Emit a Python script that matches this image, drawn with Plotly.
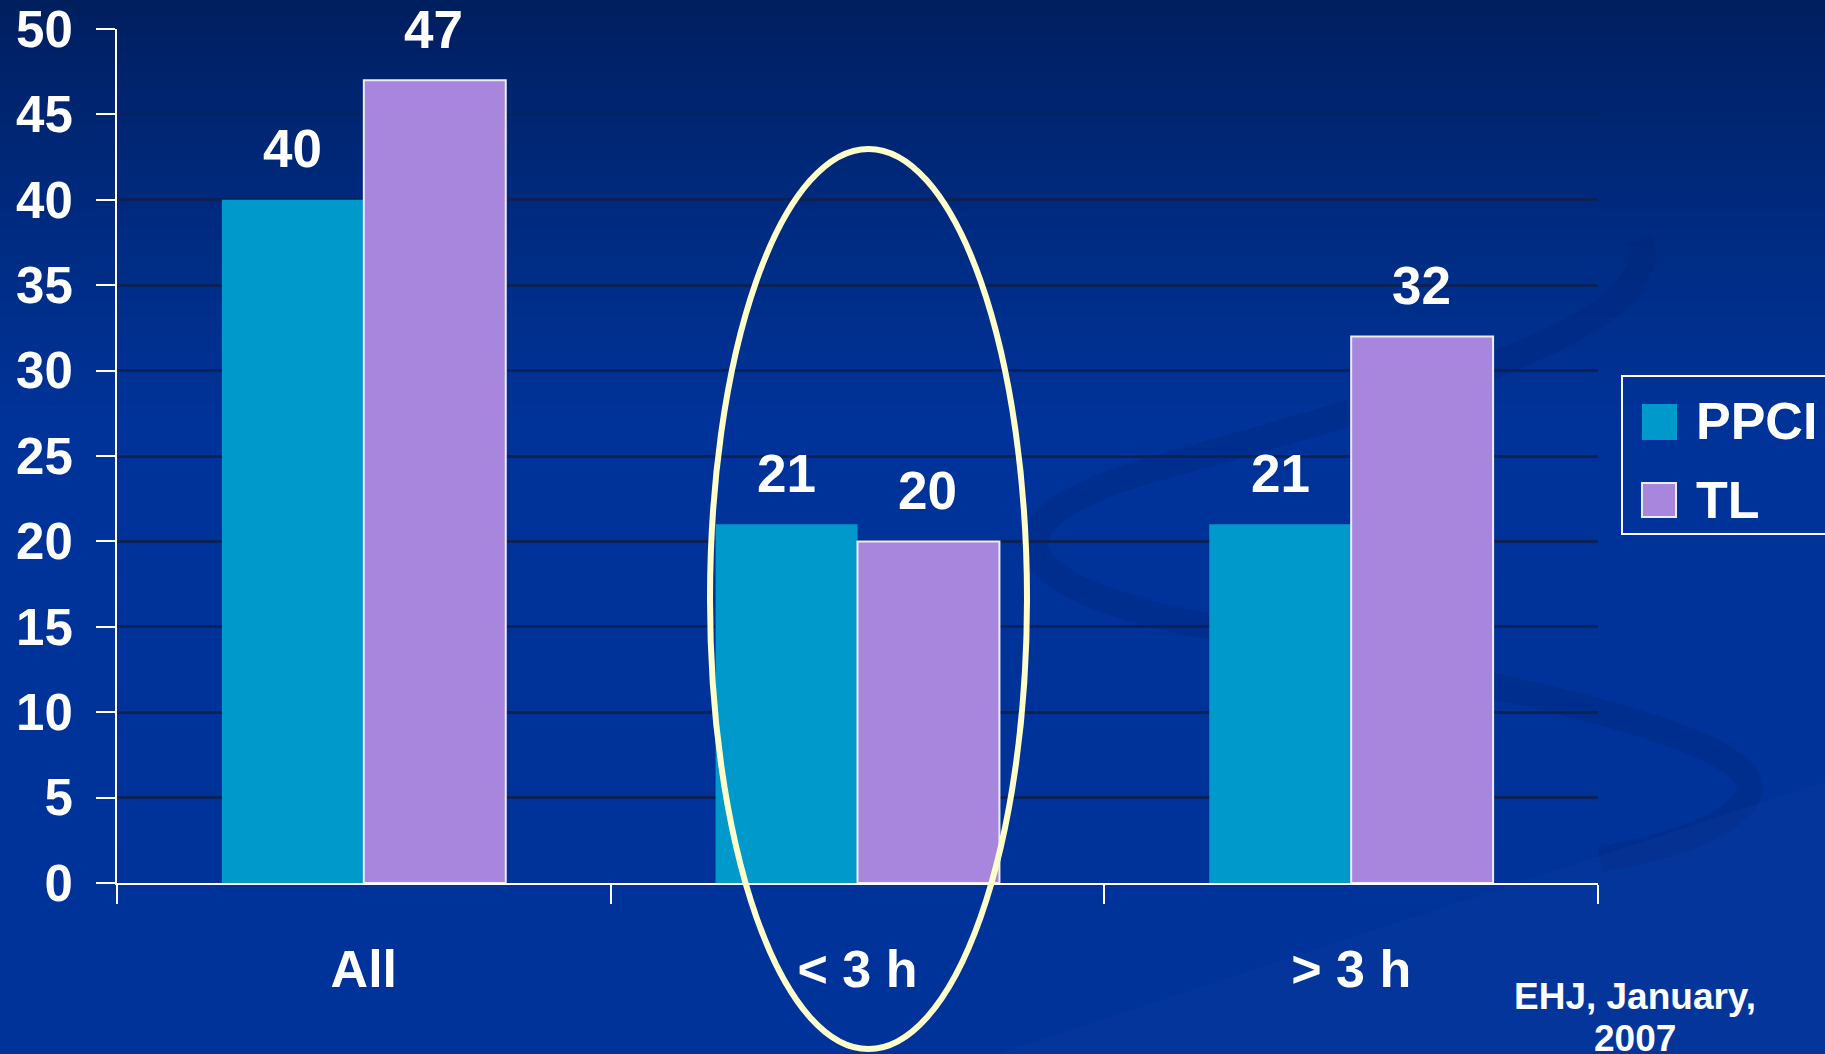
import plotly.graph_objects as go

# ---- data ----
categories = ["All", "< 3 h", "> 3 h"]
tick_labels = ["All", "&lt; 3 h", "&gt; 3 h"]
ppci_values = [40, 21, 21]
tl_values = [47, 20, 32]
series_names = ["PPCI", "TL"]
y_ticks = [0, 5, 10, 15, 20, 25, 30, 35, 40, 45, 50]
source_lines = ["EHJ, January,", "2007"]

# ---- layout geometry ----
W, H = 1825, 1054
L, R, T, B = 117, 227, 29, 171
PW, PH = W - L - R, H - T - B
FONT = "Arial, 'Liberation Sans', sans-serif"
PPCI_COLOR = "#0099CC"
TL_COLOR = "#A886DD"


def px(x):
    return (x - L) / PW


def py(y):
    return (H - B - y) / PH


def lerp_color(c1, c2, t):
    a = [int(c1[i:i + 2], 16) for i in (1, 3, 5)]
    b = [int(c2[i:i + 2], 16) for i in (1, 3, 5)]
    return "rgb(%d,%d,%d)" % tuple(round(a[k] + (b[k] - a[k]) * t) for k in range(3))


fig = go.Figure()
fig.add_bar(x=categories, y=ppci_values, name=series_names[0],
            marker=dict(color=PPCI_COLOR, line=dict(width=0)), showlegend=False)
fig.add_bar(x=categories, y=tl_values, name=series_names[1],
            marker=dict(color=TL_COLOR, line=dict(color="#ECECF4", width=2)), showlegend=False)

shapes = []
# background gradient
n = 60
top_c, bot_c = "#001E5C", "#003399"
grad_end = 430
for i in range(n):
    y0 = H * i / n
    y1 = H * (i + 1) / n + 1
    t = min(1.0, ((y0 + y1) / 2) / grad_end) ** 0.8
    col = lerp_color(top_c, bot_c, t)
    shapes.append(dict(type="rect", xref="paper", yref="paper", layer="below",
                       x0=px(-5), x1=px(W + 5), y0=py(y1), y1=py(y0),
                       fillcolor=col, line=dict(width=0)))

# faint decorative swoosh
sw1 = ("M {} {} C {} {} {} {} {} {} C {} {} {} {} {} {} C {} {} {} {} {} {} C {} {} {} {} {} {}").format(
    px(1640), py(240),
    px(1670), py(330), px(1400), py(400), px(1150), py(470),
    px(980), py(520), px(1000), py(585), px(1200), py(625),
    px(1500), py(685), px(1790), py(740), px(1745), py(800),
    px(1720), py(835), px(1650), py(850), px(1600), py(860))
shapes.append(dict(type="path", xref="paper", yref="paper", layer="below", path=sw1,
                   line=dict(color="rgba(0,30,110,0.22)", width=26)))
sw2 = "M {} {} L {} {} L {} {} L {} {} Z".format(px(980), py(1060), px(1830), py(780),
                                                  px(1830), py(1060), px(980), py(1060))
shapes.append(dict(type="path", xref="paper", yref="paper", layer="below", path=sw2,
                   fillcolor="rgba(30,70,170,0.12)", line=dict(width=0)))

# highlight ellipse
shapes.append(dict(type="circle", xref="paper", yref="paper",
                   x0=px(710), x1=px(1027), y0=py(1049), y1=py(149),
                   line=dict(color="#FFFFCC", width=6)))

# manual legend
shapes.append(dict(type="rect", xref="paper", yref="paper",
                   x0=px(1622), x1=px(1845), y0=py(534), y1=py(376),
                   line=dict(color="white", width=2), fillcolor="rgba(0,0,0,0)"))
shapes.append(dict(type="rect", xref="paper", yref="paper",
                   x0=px(1642), x1=px(1677), y0=py(440), y1=py(404),
                   line=dict(width=0), fillcolor=PPCI_COLOR))
shapes.append(dict(type="rect", xref="paper", yref="paper",
                   x0=px(1642), x1=px(1676), y0=py(517), y1=py(483),
                   line=dict(color="#ECECF4", width=2), fillcolor=TL_COLOR))

annotations = []
for i, c in enumerate(categories):
    for vals, shift in ((ppci_values, -71), (tl_values, 70)):
        annotations.append(dict(x=c, y=vals[i], xref="x", yref="y", text=str(vals[i]),
                                showarrow=False, xshift=shift, yshift=51, yanchor="middle",
                                font=dict(family=FONT, size=53, color="white", weight="bold")))

for name, yc in zip(series_names, (421, 500)):
    annotations.append(dict(x=px(1694), y=py(yc), xref="paper", yref="paper", text=name,
                            showarrow=False, xanchor="left", yanchor="middle",
                            font=dict(family=FONT, size=52, color="white", weight="bold")))

for line, yc in zip(source_lines, (997, 1038)):
    annotations.append(dict(x=px(1635), y=py(yc), xref="paper", yref="paper", text=line,
                            showarrow=False, xanchor="center", yanchor="middle",
                            font=dict(family=FONT, size=37, color="white", weight="bold")))

fig.update_layout(
    width=W, height=H,
    margin=dict(l=L, r=R, t=T, b=B, pad=0, autoexpand=False),
    paper_bgcolor="#003399",
    plot_bgcolor="rgba(0,0,0,0)",
    barmode="group", bargap=0.425, bargroupgap=0,
    shapes=shapes, annotations=annotations,
    showlegend=False,
    font=dict(family=FONT, color="white"),
)
fig.update_xaxes(type="category", tickmode="array", tickvals=categories, ticktext=tick_labels,
                 tickson="boundaries", ticks="outside", ticklen=19, tickwidth=2, tickcolor="white",
                 showline=True, linecolor="white", linewidth=2, showgrid=False,
                 tickfont=dict(family=FONT, size=52, color="white", weight="bold"),
                 ticklabelstandoff=40)
fig.update_yaxes(range=[0, 50], tickmode="array", tickvals=y_ticks,
                 ticks="outside", ticklen=19, tickwidth=2, tickcolor="white",
                 showline=True, linecolor="white", linewidth=2,
                 showgrid=True, gridcolor="#0C2156", gridwidth=3, zeroline=False,
                 tickfont=dict(family=FONT, size=51, color="white", weight="bold"),
                 ticklabelstandoff=13)

fig.write_html("out.html")
